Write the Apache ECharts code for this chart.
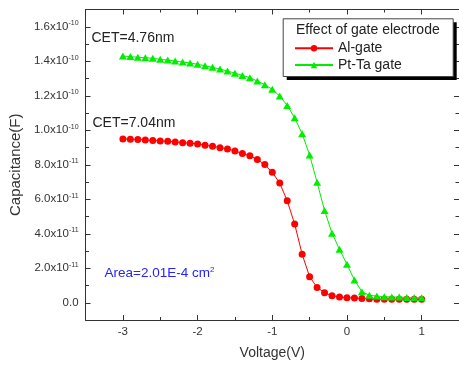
<!DOCTYPE html>
<html>
<head>
<meta charset="utf-8">
<script src="https://cdn.jsdelivr.net/npm/echarts@6/dist/echarts.min.js"></script>
<style>
html,body{margin:0;padding:0;background:#fff;}
#chart{width:459px;height:365px;}
</style>
</head>
<body>
<div id="chart"></div>
<script>
// Voltage (V)
var voltage = [-3.0,-2.9,-2.8,-2.7,-2.6,-2.5,-2.4,-2.3,-2.2,-2.1,-2.0,-1.9,-1.8,-1.7,-1.6,-1.5,-1.4,-1.3,-1.2,-1.1,-1.0,-0.9,-0.8,-0.7,-0.6,-0.5,-0.4,-0.3,-0.2,-0.1,0.0,0.1,0.2,0.3,0.4,0.5,0.6,0.7,0.8,0.9,1.0];
// Capacitance (F), Al-gate
var alGate = [0.950e-10,0.948e-10,0.946e-10,0.944e-10,0.940e-10,0.938e-10,0.936e-10,0.932e-10,0.928e-10,0.925e-10,0.921e-10,0.913e-10,0.907e-10,0.899e-10,0.892e-10,0.880e-10,0.865e-10,0.852e-10,0.830e-10,0.801e-10,0.756e-10,0.694e-10,0.591e-10,0.456e-10,0.281e-10,0.151e-10,0.089e-10,0.058e-10,0.041e-10,0.033e-10,0.029e-10,0.027e-10,0.025e-10,0.023e-10,0.021e-10,0.020e-10,0.020e-10,0.020e-10,0.020e-10,0.020e-10,0.020e-10];
// Capacitance (F), Pt-Ta gate
var ptTaGate = [1.430e-10,1.427e-10,1.423e-10,1.421e-10,1.417e-10,1.411e-10,1.407e-10,1.401e-10,1.395e-10,1.390e-10,1.382e-10,1.374e-10,1.365e-10,1.355e-10,1.343e-10,1.331e-10,1.318e-10,1.305e-10,1.285e-10,1.264e-10,1.237e-10,1.198e-10,1.144e-10,1.072e-10,0.979e-10,0.857e-10,0.698e-10,0.535e-10,0.403e-10,0.310e-10,0.223e-10,0.132e-10,0.064e-10,0.043e-10,0.039e-10,0.035e-10,0.033e-10,0.033e-10,0.031e-10,0.029e-10,0.029e-10];
// tick labels
var xTickValues = [-3,-2,-1,0,1];
var yTickValues = [0,2e-11,4e-11,6e-11,8e-11,1.0e-10,1.2e-10,1.4e-10,1.6e-10];
var seriesNames = ['Al-gate','Pt-Ta gate'];
var legendTitle = 'Effect of gate electrode';
var annotations = ['CET=4.76nm','CET=7.04nm'];

var FONT = '"Liberation Sans", Arial, sans-serif';
var AX = '#333';

function pair(a,b){ var r=[]; for (var i=0;i<a.length;i++) r.push([a[i],b[i]]); return r; }

function yFmt(v){
  if (Math.abs(v) < 1e-15) return '{b|0.0}';
  var e = Math.floor(Math.log10(Math.abs(v)) + 1e-9);
  var m = v / Math.pow(10, e);
  return '{b|' + m.toFixed(1) + 'x10}{s|' + e + '}';
}

var X = {min:-3.5, max:1.5};
var Y = {min:-1e-11, max:1.7e-10};

function xAx(pos, major, showLabel){
  var o = {type:'value', position:pos, min:X.min, max:X.max, splitLine:{show:false},
    axisLine:{show:major, onZero:false, lineStyle:{color:AX, width:1}},
    axisTick:{show:true, inside:true, length: major?5:3, lineStyle:{color:AX}},
    axisLabel:{show:false}};
  if (major){
    o.axisTick.customValues = xTickValues;
    o.axisLabel = {show:showLabel, customValues:xTickValues, margin:6, color:AX, fontSize:11.5, fontFamily:FONT};
  } else {
    o.interval = 0.5;
  }
  if (showLabel){
    o.name = 'Voltage(V)'; o.nameLocation='middle'; o.nameGap=26;
    o.nameTextStyle = {fontSize:14, color:AX, fontFamily:FONT};
  }
  return o;
}
function yAx(pos, major, showLabel){
  var o = {type:'value', position:pos, min:Y.min, max:Y.max, splitLine:{show:false},
    axisLine:{show:major, onZero:false, lineStyle:{color:AX, width:1}},
    axisTick:{show:true, inside:true, length: major?5:3.5, lineStyle:{color:AX}},
    axisLabel:{show:false}};
  if (major){
    o.axisTick.customValues = yTickValues;
    o.axisLabel = {show:showLabel, customValues:yTickValues, margin:7, color:AX, fontFamily:FONT,
      formatter:yFmt,
      rich:{b:{fontSize:11.5, color:AX, fontFamily:FONT}, s:{fontSize:7, color:AX, fontFamily:FONT, verticalAlign:'top', padding:[0,0,7,0]}}};
  } else {
    o.interval = 1e-11;
  }
  if (showLabel){
    o.name = 'Capacitance(F)'; o.nameLocation='middle'; o.nameGap=57;
    o.nameTextStyle = {fontSize:15, color:AX, fontFamily:FONT};
  }
  return o;
}

var legendCommon = {orient:'vertical', left:294, itemWidth:38, itemHeight:8, itemGap:4, z:20, zlevel:0,
  textStyle:{fontSize:14, color:'#222', fontFamily:FONT}, padding:0};

var chart = echarts.init(document.getElementById('chart'), null, {renderer:'canvas'});
chart.setOption({
  animation:false,
  backgroundColor:'#fff',
  textStyle:{fontFamily:FONT},
  grid:{left:85.5, top:9.5, width:377.5, height:310.5, containLabel:false},
  xAxis:[xAx('bottom',true,true), xAx('bottom',false,false), xAx('top',true,false), xAx('top',false,false)],
  yAxis:[yAx('left',true,true), yAx('left',false,false), yAx('right',true,false), yAx('right',false,false)],
  legend:[
    Object.assign({data:[seriesNames[0]], top:41.3}, legendCommon),
    Object.assign({data:[seriesNames[1]], top:58}, legendCommon)
  ],
  graphic:[
    {type:'rect', left:286.7, top:22.3, z:5, shape:{width:170, height:57.7},
     style:{fill:'#000', stroke:null}},
    {type:'rect', left:282.7, top:18.3, z:6, shape:{width:170, height:57.7},
     style:{fill:'#fff', stroke:'#444', lineWidth:1}},
    {type:'text', left:296, top:23.5, z:7, style:{text:legendTitle, fontSize:14, fill:'#222', fontFamily:FONT}},
    {type:'text', left:91.5, top:31.5, z:7, style:{text:annotations[0], fontSize:14, fill:'#222', fontFamily:FONT}},
    {type:'text', left:92.5, top:116.5, z:7, style:{text:annotations[1], fontSize:14, fill:'#222', fontFamily:FONT}},
    {type:'text', left:104.5, top:266, z:7, style:{text:'{a|Area=2.01E-4 cm}{s|2}', fontFamily:FONT,
      rich:{a:{fontSize:13.5, fill:'#2323ff', fontFamily:FONT}, s:{fontSize:8, fill:'#2323ff', fontFamily:FONT, verticalAlign:'top', padding:[0,0,7,0]}}}}
  ],
  series:[
    {name:seriesNames[0], type:'line', xAxisIndex:0, yAxisIndex:0, data:pair(voltage, alGate),
     symbol:'circle', symbolSize:7, lineStyle:{color:'#ff0000', width:1}, itemStyle:{color:'#ff0000'}, z:3},
    {name:seriesNames[1], type:'line', xAxisIndex:0, yAxisIndex:0, data:pair(voltage, ptTaGate),
     symbol:'triangle', symbolSize:[8,7], lineStyle:{color:'#00ee00', width:1}, itemStyle:{color:'#00ee00'}, z:4}
  ]
});
</script>
</body>
</html>
